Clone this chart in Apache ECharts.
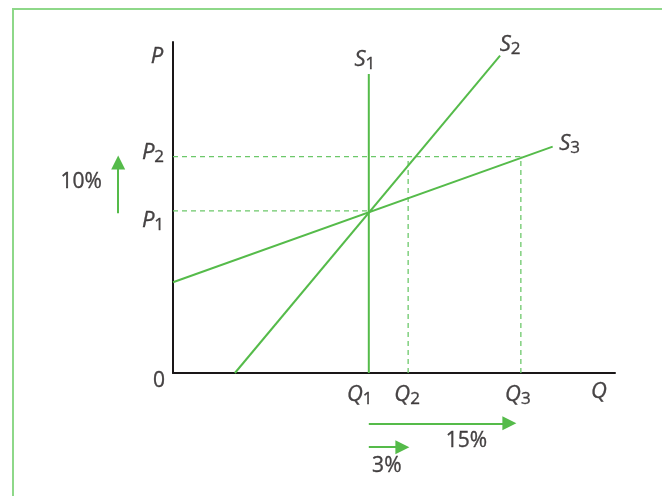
<!DOCTYPE html>
<html>
<head>
<meta charset="utf-8">
<script src="https://cdn.jsdelivr.net/npm/echarts@6/dist/echarts.min.js"></script>
<style>
  html, body { margin: 0; padding: 0; background: #fff; }
  #chart { width: 662px; height: 496px; }
</style>
</head>
<body>
<div id="chart"></div>
<script>
// quantities Q1, Q2, Q3 and prices P1, P2 (axis runs 0..100 both ways)
const qLevels = [44.3, 53.2, 78.7];
const pLevels = [49.0, 65.4];

// supply curves, two end points each
const s1 = [[44.3, 0], [44.3, 90.3]];
const s2 = [[14.0, 0], [74.0, 95.9]];
const s3 = [[0, 27.4], [85.9, 68.4]];

// shift arrows below / left of the axes
const priceArrow = [[-12.4, 48.3], [-12.4, 63.6]];
const qtyArrow15 = [[44.3, -15.2], [76.1, -15.2]];
const qtyArrow3 = [[44.3, -22.4], [51.9, -22.4]];

const pctLabels = ['10%', '15%', '3%'];

const green = '#55bb4a';
const dashGreen = '#6cc86a';
const ink = '#1a1718';
const font = 'Open Sans';

// slight stroke so the thin font reads as dark as the original
const txt = { fontFamily: font, color: ink, textBorderColor: ink, textBorderWidth: 0.35 };
const rich = {
  i: Object.assign({ fontStyle: 'italic', fontSize: 22 }, txt),
  s: Object.assign({ fontSize: 17, padding: [9, 0, 0, 0] }, txt),
  n: Object.assign({ fontSize: 21 }, txt)
};

const solid = (name, pts) => ({
  name, type: 'line', data: pts, symbol: 'none', silent: true,
  lineStyle: { color: green, width: 2 }
});
const dashed = (pts) => ({
  type: 'line', data: pts, symbol: 'none', silent: true,
  lineStyle: { color: dashGreen, width: 1.3, type: [5, 4] }
});

const [Q1, Q2, Q3] = qLevels;
const [P1, P2] = pLevels;

// text labels, anchored on data points, nudged in pixels
const labels = [
  { t: '{i|P}', at: [0, 100], off: [-16, 15] },
  { t: '{i|P}{s|2}', at: [0, P2], off: [-20, -4] },
  { t: '{i|P}{s|1}', at: [0, P1], off: [-20, 10] },
  { t: '{n|0}', at: [0, 0], off: [-14, 8] },
  { t: '{i|Q}{s|1}', at: [Q1, 0], off: [-9, 22] },
  { t: '{i|Q}{s|2}', at: [Q2, 0], off: [-1, 22] },
  { t: '{i|Q}{s|3}', at: [Q3, 0], off: [-3, 22] },
  { t: '{i|Q}', at: [100, 0], off: [-16, 19] },
  { t: '{i|S}{s|1}', at: s1[1], off: [-4, -14] },
  { t: '{i|S}{s|2}', at: s2[1], off: [10, -11] },
  { t: '{i|S}{s|3}', at: s3[1], off: [17, -3] },
  { t: '{n|' + pctLabels[0] + '}', at: [priceArrow[0][0], (P1 + P2) / 2], off: [-37, -2] },
  { t: '{n|' + pctLabels[1] + '}', at: qtyArrow15[1], off: [-43, 18] },
  { t: '{n|' + pctLabels[2] + '}', at: qtyArrow3[0], off: [18, 19] }
];

const arrows = [priceArrow, qtyArrow15, qtyArrow3];

const option = {
  animation: false,
  graphic: [{
    type: 'rect', silent: true,
    shape: { x: 13, y: 9, width: 800, height: 700 },
    style: { fill: 'none', stroke: '#8ed889', lineWidth: 2 }
  }],
  grid: { left: 173, right: 47, top: 42, bottom: 123 },
  xAxis: {
    type: 'value', min: 0, max: 100,
    axisLine: { show: true, onZero: false, lineStyle: { color: ink, width: 2 } },
    axisTick: { show: false }, axisLabel: { show: false }, splitLine: { show: false }
  },
  yAxis: {
    type: 'value', min: 0, max: 100,
    axisLine: { show: true, onZero: false, lineStyle: { color: ink, width: 2 } },
    axisTick: { show: false }, axisLabel: { show: false }, splitLine: { show: false }
  },
  series: [
    dashed([[0, P1], [Q1, P1]]),
    dashed([[0, P2], [Q3, P2]]),
    dashed([[Q2, 0], [Q2, P2]]),
    dashed([[Q3, 0], [Q3, P2]]),
    solid('S1', s1),
    solid('S2', s2),
    solid('S3', s3),
    {
      type: 'lines', coordinateSystem: 'cartesian2d', clip: false, silent: true,
      symbol: ['none', 'triangle'], symbolSize: 14,
      lineStyle: { color: green, width: 2, opacity: 1 },
      data: arrows.map(a => ({ coords: a }))
    },
    {
      type: 'scatter', clip: false, silent: true, symbolSize: 0,
      data: labels.map(l => ({
        value: l.at,
        label: { show: true, formatter: l.t, offset: l.off, rich }
      }))
    }
  ]
};

const chart = echarts.init(document.getElementById('chart'), null, { renderer: 'canvas' });
chart.setOption(option);
</script>
</body>
</html>
